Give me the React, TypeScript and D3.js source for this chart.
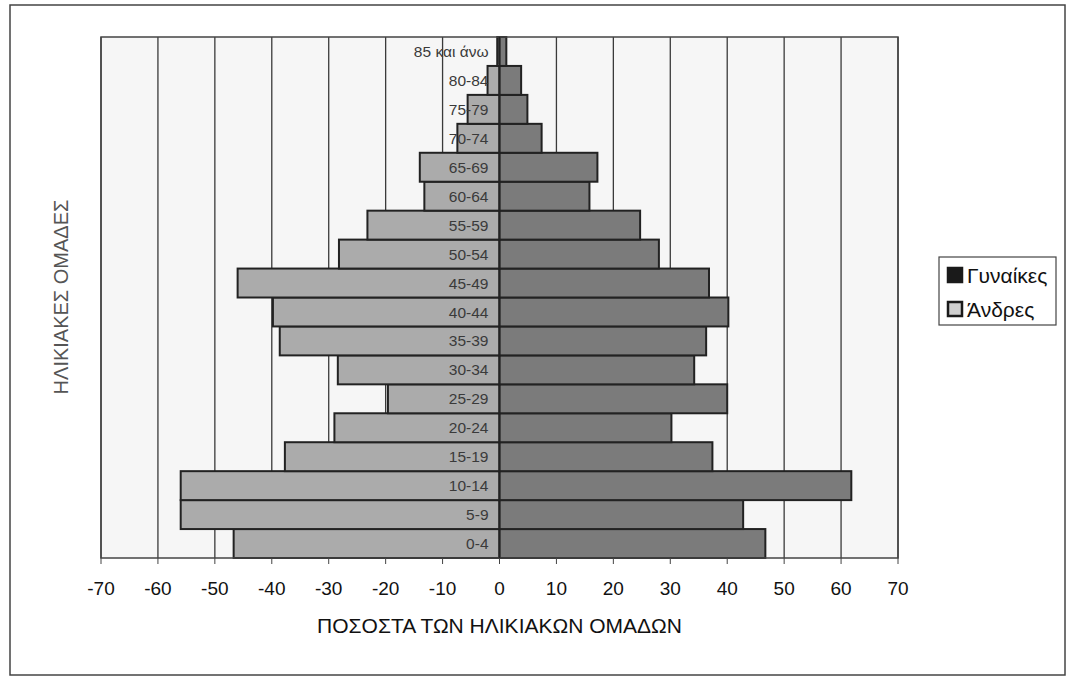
import * as d3 from "d3";
import React from "react";

// age groups, bottom to top
const ageGroups = [
  "0-4", "5-9", "10-14", "15-19", "20-24", "25-29", "30-34", "35-39", "40-44",
  "45-49", "50-54", "55-59", "60-64", "65-69", "70-74", "75-79", "80-84", "85 και άνω",
];
// Άνδρες (drawn to the left, negative side)
const men = [46.7, 56, 56, 37.7, 29, 19.6, 28.4, 38.6, 39.8, 46, 28.2, 23.2, 13.2, 14, 7.4, 5.6, 2.1, 0.4];
// Γυναίκες (drawn to the right)
const women = [46.7, 42.8, 61.8, 37.4, 30.2, 40, 34.2, 36.3, 40.2, 36.8, 28, 24.7, 15.8, 17.2, 7.4, 4.9, 3.8, 1.2];
const xTicks = [-70, -60, -50, -40, -30, -20, -10, 0, 10, 20, 30, 40, 50, 60, 70];
const seriesNames = ["Γυναίκες", "Άνδρες"];

const W = 1071, H = 679;
const font = "Arial, 'Liberation Sans', sans-serif";

export default function App() {
  const x = d3.scaleLinear().domain([-70, 70]).range([101, 898]);
  const y = d3.scaleBand().domain(ageGroups).range([558, 37]).padding(0);

  const menColor = "#ababab";
  const womenColor = "#7b7b7b";

  return (
    <svg width={W} height={H} style={{ position: "absolute", left: 0, top: 0, background: "#fff" }}>
      {/* outer frame */}
      <rect x={10} y={5} width={1055} height={670} fill="#fff" stroke="#444" strokeWidth={1.5} />

      {/* plot background */}
      <rect x={x(-70)} y={37} width={x(70) - x(-70)} height={558 - 37} fill="#f6f6f6" />

      {/* vertical gridlines */}
      {xTicks.map((t) => (
        <line key={"g" + t} x1={x(t)} x2={x(t)} y1={37} y2={558} stroke="#3a3a3a" strokeWidth={1.3} />
      ))}

      {/* bars */}
      {ageGroups.map((g, i) => (
        <g key={g}>
          <rect
            x={x(-men[i])}
            y={y(g)}
            width={x(0) - x(-men[i])}
            height={y.bandwidth()}
            fill={menColor}
            stroke="#222"
            strokeWidth={2}
          />
          <rect
            x={x(0)}
            y={y(g)}
            width={x(women[i]) - x(0)}
            height={y.bandwidth()}
            fill={womenColor}
            stroke="#222"
            strokeWidth={2}
          />
        </g>
      ))}

      {/* plot border */}
      <rect x={x(-70)} y={37} width={x(70) - x(-70)} height={558 - 37} fill="none" stroke="#444" strokeWidth={1.5} />
      <line x1={x(0)} x2={x(0)} y1={37} y2={558} stroke="#222" strokeWidth={1.5} />

      {/* category labels */}
      {ageGroups.map((g) => (
        <text
          key={"l" + g}
          x={x(0) - 11}
          y={(y(g) as number) + y.bandwidth() / 2}
          dy="0.36em"
          textAnchor="end"
          fontFamily={font}
          fontSize={15.5}
          fill="#3a3a3a"
        >
          {g}
        </text>
      ))}

      {/* x axis ticks */}
      {xTicks.map((t) => (
        <g key={"t" + t}>
          <line x1={x(t)} x2={x(t)} y1={558} y2={564} stroke="#444" strokeWidth={1} />
          <text x={x(t)} y={595} textAnchor="middle" fontFamily={font} fontSize={19} fill="#111">
            {t}
          </text>
        </g>
      ))}

      {/* axis titles */}
      <text x={x(0)} y={633} textAnchor="middle" fontFamily={font} fontSize={21} fill="#111">
        ΠΟΣΟΣΤΑ ΤΩΝ ΗΛΙΚΙΑΚΩΝ ΟΜΑΔΩΝ
      </text>
      <text
        transform="translate(68,297) rotate(-90)"
        textAnchor="middle"
        fontFamily={font}
        fontSize={20}
        fill="#555"
      >
        ΗΛΙΚΙΑΚΕΣ ΟΜΑΔΕΣ
      </text>

      {/* legend */}
      <rect x={939} y={257} width={117} height={68} fill="#fff" stroke="#444" strokeWidth={1.2} />
      {seriesNames.map((s, i) => (
        <g key={s} transform={`translate(948,${275 + i * 34})`}>
          <rect
            x={0}
            y={-7}
            width={14}
            height={14}
            fill={i === 0 ? "#1a1a1a" : "#cfcfcf"}
            stroke="#1a1a1a"
            strokeWidth={2.5}
          />
          <text x={19} y={0} dy="0.36em" fontFamily={font} fontSize={21} fill="#111">
            {s}
          </text>
        </g>
      ))}
    </svg>
  );
}
